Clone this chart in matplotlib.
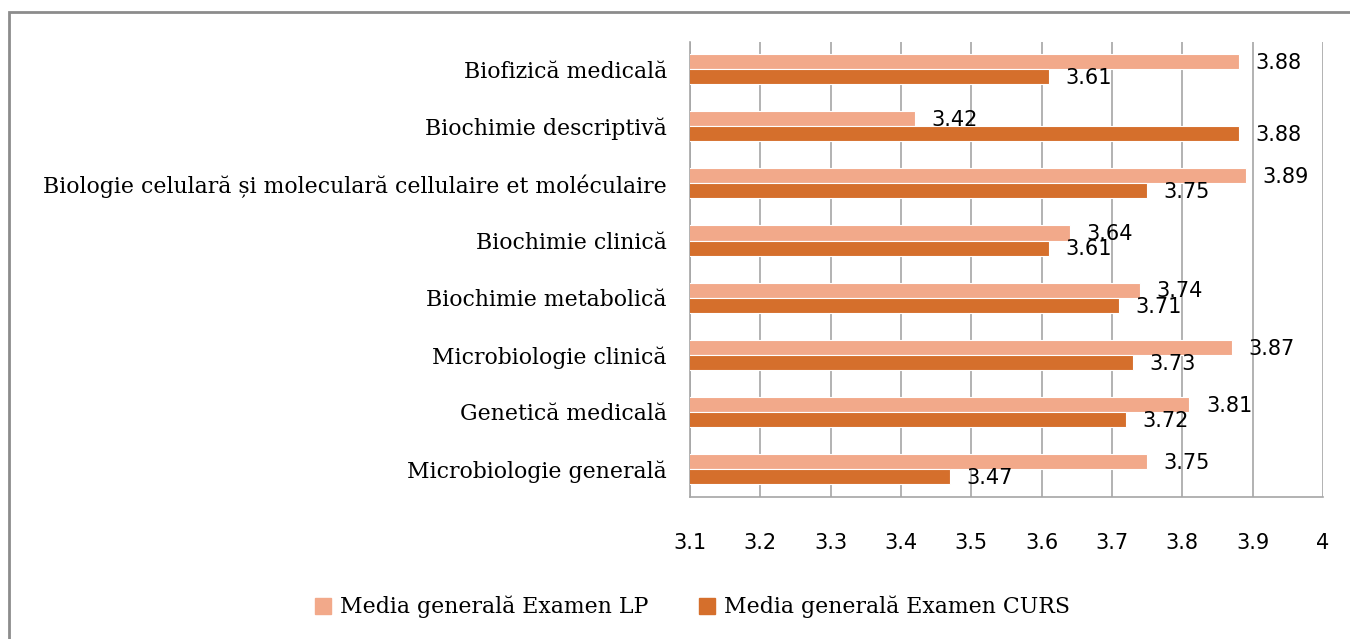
import numpy as np
import matplotlib.pyplot as plt
from matplotlib.patches import Rectangle
from matplotlib.lines import Line2D

# date
categorii = ["Biofizică medicală",
             "Biochimie descriptivă",
             "Biologie celulară și moleculară cellulaire et moléculaire",
             "Biochimie clinică",
             "Biochimie metabolică",
             "Microbiologie clinică",
             "Genetică medicală",
             "Microbiologie generală"]
media_lp = [3.88, 3.42, 3.89, 3.64, 3.74, 3.87, 3.81, 3.75]
media_curs = [3.61, 3.88, 3.75, 3.61, 3.71, 3.73, 3.72, 3.47]
serii = ["Media generală Examen LP", "Media generală Examen CURS"]
x_ticks = [3.1, 3.2, 3.3, 3.4, 3.5, 3.6, 3.7, 3.8, 3.9, 4.0]
x_tick_labels = ["3.1", "3.2", "3.3", "3.4", "3.5", "3.6", "3.7", "3.8", "3.9", "4"]

culoare_lp = "#F2A98A"
culoare_curs = "#D56F2C"
gri = "#A6A6A6"

fig = plt.figure(figsize=(13.5, 6.39), dpi=100)
ax = fig.add_axes([0.511, 0.222, 0.469, 0.712])

n = len(categorii)
y = np.arange(n)[::-1]
h = 0.265

b1 = ax.barh(y + h / 2, media_lp, height=h, left=0, color=culoare_lp,
             edgecolor="white", linewidth=0.8, zorder=3)
b2 = ax.barh(y - h / 2, media_curs, height=h, left=0, color=culoare_curs,
             edgecolor="white", linewidth=0.8, zorder=3)

ax.set_xlim(3.1, 4.0)
ax.set_ylim(-0.49, n - 0.53)
ax.set_xticks(x_ticks)
ax.set_xticklabels(x_tick_labels, fontsize=15)
ax.set_yticks(y)
ax.set_yticklabels(categorii, fontsize=15.8, family="DejaVu Serif")
ax.tick_params(axis="x", length=0, pad=26)
ax.tick_params(axis="y", length=0, pad=16.5)
ax.grid(axis="x", color=gri, linewidth=1.2, zorder=0)

for s in ["top", "right"]:
    ax.spines[s].set_visible(False)
for s in ["left", "bottom"]:
    ax.spines[s].set_color(gri)
    ax.spines[s].set_linewidth(1.2)

# etichete valori
for bars, vals in [(b1, media_lp), (b2, media_curs)]:
    for bar, v in zip(bars, vals):
        ax.annotate(f"{v:.2f}", (v, bar.get_y() + bar.get_height() / 2),
                    xytext=(12, -1), textcoords="offset points",
                    ha="left", va="center", fontsize=15, zorder=4)

# legenda
handles = [Line2D([], [], marker="s", linestyle="none", markersize=11,
                  markerfacecolor=c, markeredgecolor=c)
           for c in [culoare_lp, culoare_curs]]
fig.legend(handles, serii, loc="center", bbox_to_anchor=(0.512, 0.05),
           ncol=2, frameon=False, handlelength=1.0, handletextpad=0.25,
           columnspacing=2.2,
           prop={"family": "DejaVu Serif", "size": 15.8})

# cadru
fig.patches.append(Rectangle((0.0067, -0.05), 1.1, 1.05 - 0.0185,
                             transform=fig.transFigure, fill=False,
                             edgecolor="#8C8C8C", linewidth=2, zorder=10))

plt.savefig("out.png", dpi=100)
